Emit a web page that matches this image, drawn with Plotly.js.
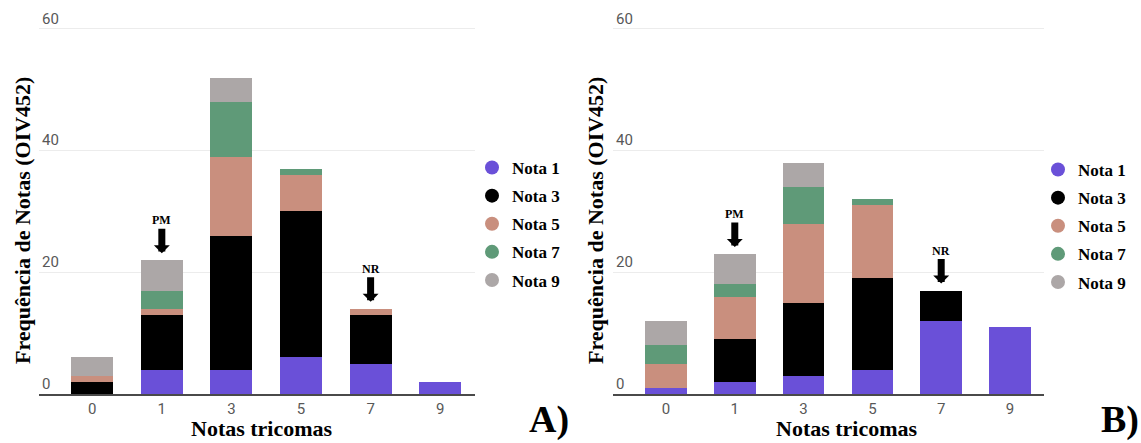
<!DOCTYPE html>
<html>
<head>
<meta charset="utf-8">
<script src="https://cdn.plot.ly/plotly-3.0.1.min.js"></script>
<style>html,body{margin:0;padding:0;background:#fff;}#chart{width:1141px;height:443px;}</style>
</head>
<body>
<div id="chart"></div>
<script>
// Categories (Notas tricomas)
const categories = ['0', '1', '3', '5', '7', '9'];
const seriesNames = ['Nota 1', 'Nota 3', 'Nota 5', 'Nota 7', 'Nota 9'];
const seriesColors = ['#6a50d8', '#000000', '#c98f7e', '#5f9a78', '#aca7a7'];

// Panel A
const A_nota1 = [0, 4, 4, 6, 5, 2];
const A_nota3 = [2, 9, 22, 24, 8, 0];
const A_nota5 = [1, 1, 13, 6, 1, 0];
const A_nota7 = [0, 3, 9, 1, 0, 0];
const A_nota9 = [3, 5, 4, 0, 0, 0];

// Panel B
const B_nota1 = [1, 2, 3, 4, 12, 11];
const B_nota3 = [0, 7, 12, 15, 5, 0];
const B_nota5 = [4, 7, 13, 12, 0, 0];
const B_nota7 = [3, 2, 6, 1, 0, 0];
const B_nota9 = [4, 5, 4, 0, 0, 0];

// Y ticks
const yTickVals = [0, 20, 40, 60];
const yTickText = ['0', '20', '40', '60'];

const W = 1141, H = 443;
const px = v => v / W;
const py = v => 1 - v / H;

const Aseries = [A_nota1, A_nota3, A_nota5, A_nota7, A_nota9];
const Bseries = [B_nota1, B_nota3, B_nota5, B_nota7, B_nota9];

const traces = [];
function addBars(series, xa, ya) {
  series.forEach((vals, i) => {
    traces.push({
      type: 'bar', x: categories, y: vals, xaxis: xa, yaxis: ya,
      name: seriesNames[i], showlegend: false,
      marker: { color: seriesColors[i], line: { width: 0 } },
      hoverinfo: 'x+y+name'
    });
  });
}
addBars(Aseries, 'x', 'y');
addBars(Bseries, 'x2', 'y2');

// legend entries as circles
function addLegend(legendId, xa, ya) {
  seriesNames.forEach((n, i) => {
    traces.push({
      type: 'scatter', mode: 'markers', x: [null], y: [null], xaxis: xa, yaxis: ya,
      name: n, legend: legendId, legendgroup: legendId + i,
      marker: { color: seriesColors[i], size: 14, symbol: 'circle' },
      showlegend: true, hoverinfo: 'skip'
    });
  });
}
addLegend('legend', 'x', 'y');
addLegend('legend2', 'x2', 'y2');

function totals(series) {
  return categories.map((c, j) => series.reduce((s, arr) => s + arr[j], 0));
}
const totA = totals(Aseries), totB = totals(Bseries);

// 0 -> y=394px, 60 -> y=29px ; range top 61
const yTop = 61;
const pxPerUnit = (394 - 29) / 60;
const yDomain = [1 - 394 / H, 1 - (394 - yTop * pxPerUnit) / H];

const tickFont = { family: 'Roboto, Arial, sans-serif', size: 15, color: '#585858' };
const titleFont = { family: '"Liberation Serif", "Times New Roman", serif', size: 22, color: '#000', weight: 'bold' };
const legendFont = { family: '"Liberation Serif", "Times New Roman", serif', size: 17, color: '#000', weight: 'bold' };

function xAxis(domain, range, anchor) {
  return {
    domain: domain, range: range, type: 'category', anchor: anchor,
    showgrid: false, zeroline: false, showline: true, linecolor: '#4a4a4a', linewidth: 2,
    ticks: '', tickfont: tickFont, fixedrange: true
  };
}
function yAxis(anchor) {
  return {
    domain: yDomain, range: [0, yTop], anchor: anchor,
    tickvals: yTickVals, ticktext: yTickText, ticklabelposition: 'inside top', ticklabeloverflow: 'allow',
    showgrid: true, gridcolor: '#ececec', gridwidth: 1, zeroline: false, showline: false,
    ticks: '', tickfont: tickFont, fixedrange: true
  };
}

function arrowAnn(xref, yref, xi, total, label) {
  return {
    xref: xref, yref: yref, x: xi, y: total, text: '<b>' + label + '</b>',
    showarrow: true, arrowhead: 1, arrowwidth: 7, arrowsize: 0.38, arrowcolor: '#000',
    ax: 0, ay: -40, standoff: 7,
    font: { family: '"Liberation Serif", "Times New Roman", serif', size: 12, color: '#000' }
  };
}

const annotations = [
  arrowAnn('x', 'y', 1, totA[1], 'PM'),
  arrowAnn('x', 'y', 4, totA[4], 'NR'),
  arrowAnn('x2', 'y2', 1, totB[1], 'PM'),
  arrowAnn('x2', 'y2', 4, totB[4], 'NR'),
  // axis titles
  { xref: 'paper', yref: 'paper', x: px(22), y: py(221), text: 'Frequência de Notas (OIV452)', textangle: -90,
    showarrow: false, font: titleFont, xanchor: 'center', yanchor: 'middle' },
  { xref: 'paper', yref: 'paper', x: px(595), y: py(221), text: 'Frequência de Notas (OIV452)', textangle: -90,
    showarrow: false, font: titleFont, xanchor: 'center', yanchor: 'middle' },
  { xref: 'paper', yref: 'paper', x: px(262), y: py(428), text: 'Notas tricomas',
    showarrow: false, font: titleFont, xanchor: 'center', yanchor: 'middle' },
  { xref: 'paper', yref: 'paper', x: px(847), y: py(428), text: 'Notas tricomas',
    showarrow: false, font: titleFont, xanchor: 'center', yanchor: 'middle' },
  // panel letters
  { xref: 'paper', yref: 'paper', x: px(549), y: py(419), text: 'A)',
    showarrow: false, font: { family: '"Liberation Serif", "Times New Roman", serif', size: 38, color: '#000', weight: 'bold' },
    xanchor: 'center', yanchor: 'middle' },
  { xref: 'paper', yref: 'paper', x: px(1120), y: py(419), text: 'B)',
    showarrow: false, font: { family: '"Liberation Serif", "Times New Roman", serif', size: 38, color: '#000', weight: 'bold' },
    xanchor: 'center', yanchor: 'middle' }
];

const layout = {
  width: W, height: H,
  margin: { l: 0, r: 0, t: 0, b: 0 },
  paper_bgcolor: '#ffffff', plot_bgcolor: '#ffffff',
  barmode: 'stack', bargap: 0.395,
  xaxis: xAxis([px(39), px(475)], [-0.765, 5.5], 'y'),
  yaxis: yAxis('x'),
  xaxis2: xAxis([px(613), px(1044)], [-0.77, 5.494], 'y2'),
  yaxis2: yAxis('x2'),
  legend: { x: px(472), y: py(150), xanchor: 'left', yanchor: 'top', font: legendFont,
    bgcolor: 'rgba(0,0,0,0)', traceorder: 'grouped', tracegroupgap: 3, itemclick: false },
  legend2: { x: px(1038), y: py(152), xanchor: 'left', yanchor: 'top', font: legendFont,
    bgcolor: 'rgba(0,0,0,0)', traceorder: 'grouped', tracegroupgap: 3, itemclick: false },
  annotations: annotations,
  showlegend: true
};

Plotly.newPlot('chart', traces, layout, { displayModeBar: false, staticPlot: true });
</script>
</body>
</html>
